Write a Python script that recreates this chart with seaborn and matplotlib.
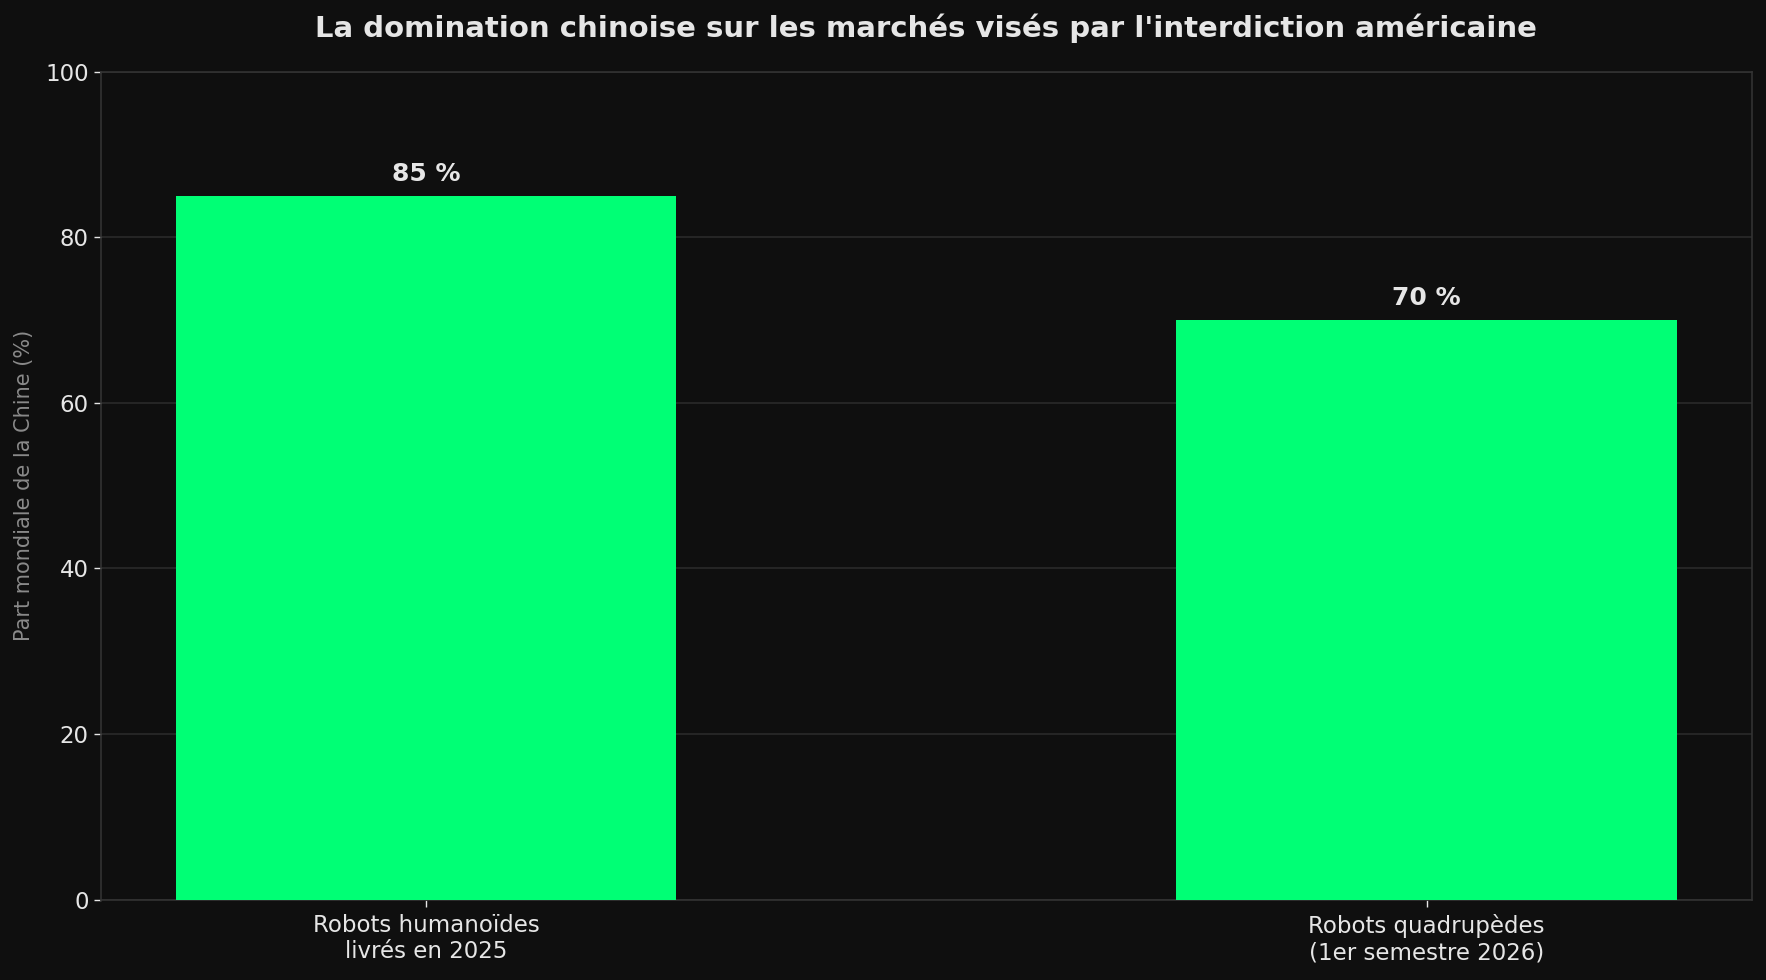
import pandas as pd
import numpy as np
import matplotlib.pyplot as plt
import seaborn as sns

categories = ["Robots humanoïdes\nlivrés en 2025", "Robots quadrupèdes\n(1er semestre 2026)"]
shares = [85, 70]
bar_labels = ["85 %", "70 %"]
y_ticks = [0, 20, 40, 60, 80, 100]

BG = "#0f0f0f"
GREEN = "#00ff75"
TXT = "#e6e6e6"

sns.set_theme(style="dark")
plt.rcParams['font.family'] = ['DejaVu Sans']

df = pd.DataFrame({"cat": categories, "share": shares})

fig, ax = plt.subplots(figsize=(17.66, 9.8), dpi=100)
fig.patch.set_facecolor(BG)
ax.set_facecolor(BG)

sns.barplot(data=df, x="cat", y="share", color=GREEN, saturation=1, width=0.5,
            linewidth=0, edgecolor=GREEN, ax=ax, zorder=3)

for i, v in enumerate(shares):
    ax.annotate(bar_labels[i], (i, v), xytext=(0, 7), textcoords="offset points",
                ha="center", va="bottom", fontsize=18, fontweight="bold", color=TXT)

ax.set_xlim(-0.325, 1.325)
ax.set_ylim(0, 100)
ax.set_yticks(y_ticks)
ax.yaxis.grid(True, color="#2a2a2a", linewidth=1.2, zorder=0)
ax.xaxis.grid(False)

ax.set_xlabel("")
ax.set_ylabel("Part mondiale de la Chine (%)", fontsize=15, color="#8a8a8a", labelpad=8)
ax.set_title("La domination chinoise sur les marchés visés par l'interdiction américaine",
             fontsize=21, fontweight="bold", color=TXT, pad=25)

ax.tick_params(axis="both", colors=TXT, labelsize=16.5, length=5, width=1, left=True, bottom=True)
ax.tick_params(axis="x", pad=5)
for s in ax.spines.values():
    s.set_visible(True)
    s.set_color("#333333")
    s.set_linewidth(1.2)

plt.subplots_adjust(left=0.057, right=0.992, top=0.927, bottom=0.082)
plt.savefig("out.png", dpi=100, facecolor=BG)
